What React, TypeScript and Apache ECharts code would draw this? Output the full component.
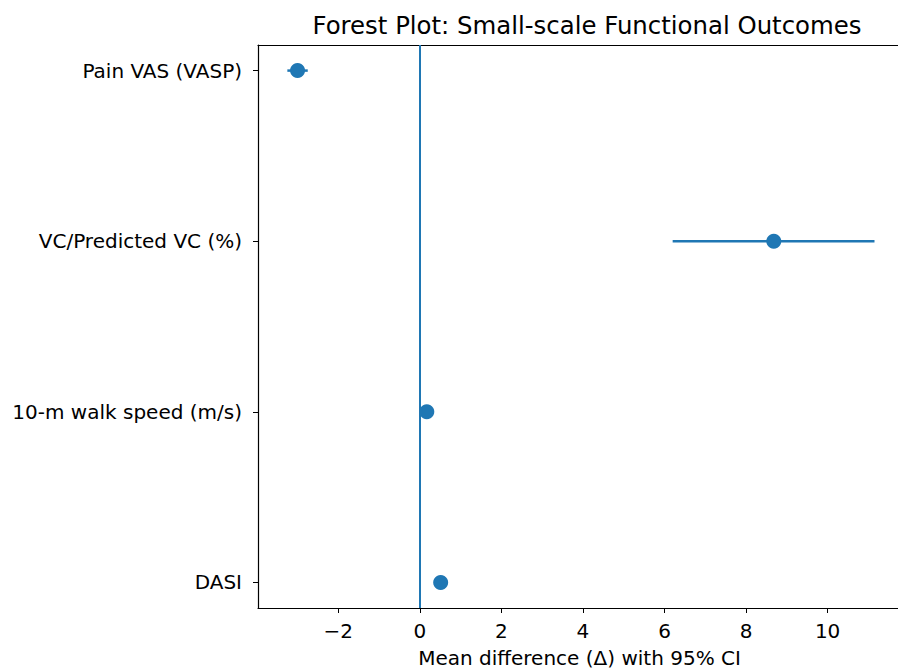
import React, { useEffect, useRef } from "react";
import * as echarts from "echarts";

const categories = ["Pain VAS (VASP)", "VC/Predicted VC (%)", "10-m walk speed (m/s)", "DASI"];
const means = [-3.0, 8.68, 0.17, 0.51];
const lowerCI = [-3.25, 6.2, 0.1, 0.42];
const upperCI = [-2.75, 11.15, 0.24, 0.6];
const xTicks = [-2, 0, 2, 4, 6, 8, 10];
const yTicks = [0, 1, 2, 3];

const BLUE = "#1f77b4";
const FONT = "DejaVu Sans";
const X_MIN = -3.97;
const X_MAX = 11.8;

export default function App() {
  const ref = useRef<HTMLDivElement>(null);
  useEffect(() => {
    if (!ref.current) return;
    const chart = echarts.init(ref.current, null, { renderer: "svg" });
    const errData = categories.map((_, i) => [lowerCI[i], upperCI[i], i]);
    const ptData = categories.map((_, i) => [means[i], i]);
    chart.setOption({
      animation: false,
      backgroundColor: "#fff",
      title: {
        text: "Forest Plot: Small-scale Functional Outcomes",
        left: 582,
        top: 8,
        textAlign: "center",
        textStyle: { fontFamily: FONT, fontSize: 24.4, fontWeight: "normal", color: "#000" },
      },
      grid: {
        left: 258,
        top: 45,
        width: 643,
        height: 563,
        outerBoundsMode: "none",
        containLabel: false,
        show: false,
      },
      xAxis: [
        {
          type: "value",
          min: X_MIN,
          max: X_MAX,
          splitLine: { show: false },
          axisLine: { show: true, onZero: false, lineStyle: { color: "#000", width: 1.2 } },
          axisTick: { show: true, customValues: xTicks, length: 5, lineStyle: { color: "#000", width: 1 } },
          axisLabel: {
            customValues: xTicks,
            formatter: (v: number) => (v < 0 ? "\u2212" + Math.abs(v) : String(v)),
            fontFamily: FONT,
            fontSize: 20,
            color: "#000",
            margin: 13,
          },
          name: "Mean difference (\u0394) with 95% CI",
          nameLocation: "middle",
          nameGap: 40,
          nameTextStyle: { fontFamily: FONT, fontSize: 20, lineHeight: 20, color: "#000" },
        },
        {
          type: "value",
          position: "top",
          min: X_MIN,
          max: X_MAX,
          splitLine: { show: false },
          axisLine: { show: true, onZero: false, lineStyle: { color: "#000", width: 1.2 } },
          axisTick: { show: false },
          axisLabel: { show: false },
        },
      ],
      yAxis: {
        type: "value",
        min: -0.15,
        max: 3.15,
        inverse: true,
        splitLine: { show: false },
        axisLine: { show: true, onZero: false, lineStyle: { color: "#000", width: 1.2 } },
        axisTick: { show: true, customValues: yTicks, length: 5, lineStyle: { color: "#000", width: 1 } },
        axisLabel: {
          customValues: yTicks,
          formatter: (v: number) => categories[Math.round(v)] ?? "",
          fontFamily: FONT,
          fontSize: 20,
          color: "#000",
          margin: 16,
        },
      },
      series: [
        {
          type: "custom",
          data: errData,
          xAxisIndex: 0,
          encode: { x: [0, 1], y: 2 },
          renderItem: (params: any, api: any) => {
            const p1 = api.coord([api.value(0), api.value(2)]);
            const p2 = api.coord([api.value(1), api.value(2)]);
            return {
              type: "line",
              shape: { x1: p1[0], y1: p1[1], x2: p2[0], y2: p2[1] },
              style: { stroke: BLUE, lineWidth: 2.5 },
            };
          },
          z: 2,
        },
        {
          type: "scatter",
          data: ptData,
          xAxisIndex: 0,
          symbol: "circle",
          symbolSize: 15,
          itemStyle: { color: BLUE, opacity: 1 },
          z: 3,
          markLine: {
            silent: true,
            symbol: ["none", "none"],
            label: { show: false },
            lineStyle: { color: BLUE, width: 2, type: "solid" },
            data: [{ xAxis: 0 }],
          },
        },
      ],
    });
    return () => chart.dispose();
  }, []);
  return (
    <div
      ref={ref}
      style={{ position: "absolute", left: 0, top: 0, width: 898, height: 669, background: "#fff" }}
    />
  );
}
